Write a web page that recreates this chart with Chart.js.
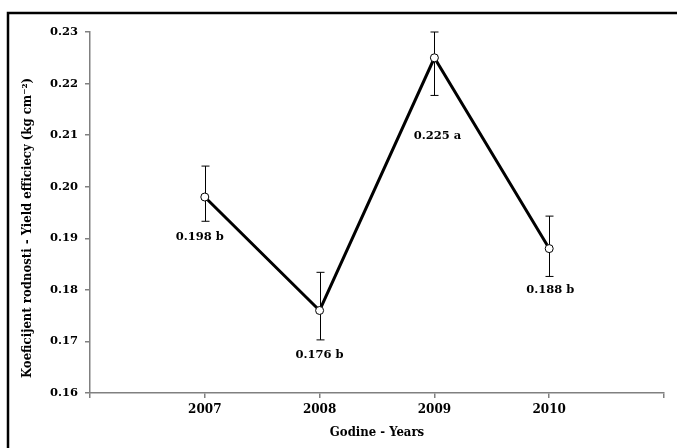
<!DOCTYPE html>
<html>
<head>
<meta charset="utf-8">
<script src="https://cdn.jsdelivr.net/npm/chart.js@4.4.1/dist/chart.umd.min.js"></script>
<style>
  html, body { margin: 0; padding: 0; background: #fff; }
  #wrap { width: 677px; height: 448px; }
</style>
</head>
<body>
<div id="wrap"><canvas id="canvas" width="677" height="448"></canvas></div>
<script>
var canvas = document.getElementById('canvas');
var ctx = canvas.getContext('2d');

// data
var years = ['2007', '2008', '2009', '2010'];
var means = [0.198, 0.176, 0.225, 0.188];
var errHigh = [0.2040, 0.1834, 0.2300, 0.1943];
var errLow = [0.1933, 0.1703, 0.2177, 0.1826];
var letters = ['b', 'b', 'a', 'b'];
var yTicks = [0.16, 0.17, 0.18, 0.19, 0.20, 0.21, 0.22, 0.23];

// label placement (pixels, relative to the lower error cap)
var labelDx = [-5, 0, 3, 1];
var labelDy = [16, 15, 41, 14];

var points = [];
for (var i = 0; i < years.length; i++) {
  points.push({ x: i + 1, y: means[i] });
}

var boldSerif = 'bold 11.5px "DejaVu Serif"';
var titleFont = 'bold 13px "DejaVu Serif Condensed", "DejaVu Serif"';

// border, error bars and labels
var extras = {
  id: 'extras',
  beforeDatasetsDraw: function(chart) {
    var c = chart.ctx;
    var xs = chart.scales.x, ys = chart.scales.y;
    c.save();
    c.strokeStyle = '#000';
    c.lineWidth = 1;
    for (var i = 0; i < years.length; i++) {
      var px = Math.round(xs.getPixelForValue(i + 1)) + 0.5;
      var top = ys.getPixelForValue(errHigh[i]);
      var bot = ys.getPixelForValue(errLow[i]);
      c.beginPath();
      c.moveTo(px, top); c.lineTo(px, bot);
      c.moveTo(px - 4, top); c.lineTo(px + 4, top);
      c.moveTo(px - 4, bot); c.lineTo(px + 4, bot);
      c.stroke();
    }
    c.restore();
  },
  afterDraw: function(chart) {
    var c = chart.ctx;
    var xs = chart.scales.x, ys = chart.scales.y;
    c.save();
    // outer frame (runs past the right and bottom edges)
    c.strokeStyle = '#000';
    c.lineWidth = 2.5;
    c.strokeRect(8, 13, 700, 480);

    c.fillStyle = '#000';
    c.font = boldSerif;
    c.textAlign = 'center';
    c.textBaseline = 'middle';
    for (var i = 0; i < years.length; i++) {
      var px = xs.getPixelForValue(i + 1);
      var bot = ys.getPixelForValue(errLow[i]);
      c.fillText(means[i].toFixed(3) + ' ' + letters[i], px + labelDx[i], bot + labelDy[i]);
    }

    // axis titles
    c.font = titleFont;
    c.fillText('Godine - Years', (chart.chartArea.left + chart.chartArea.right) / 2, 433);
    c.translate(28, 228);
    c.rotate(-Math.PI / 2);
    c.fillText('Koeficijent rodnosti - Yield efficiecy (kg cm\u207B\u00B2)', 0, 0);
    c.restore();
  }
};

var chart = new Chart(ctx, {
  type: 'line',
  data: {
    datasets: [{
      data: points,
      borderColor: '#000',
      borderWidth: 3,
      pointRadius: 4,
      pointBorderWidth: 1,
      pointBackgroundColor: '#fff',
      pointBorderColor: '#000',
      tension: 0,
      fill: false
    }]
  },
  options: {
    responsive: false,
    animation: false,
    layout: { padding: { left: 0, top: 32, right: 13, bottom: 0 } },
    plugins: {
      legend: { display: false },
      tooltip: { enabled: false }
    },
    scales: {
      x: {
        type: 'linear',
        min: 0,
        max: 5,
        afterFit: function(scale) { scale.height = 55; },
        afterBuildTicks: function(scale) {
          var t = [];
          for (var i = 0; i <= years.length + 1; i++) t.push({ value: i });
          scale.ticks = t;
        },
        grid: { drawOnChartArea: false, color: '#808080', tickLength: 5, lineWidth: 1.5 },
        border: { color: '#808080', width: 1.5 },
        ticks: {
          padding: 5,
          color: '#000',
          font: { family: 'DejaVu Serif', size: 12, weight: 'bold' },
          callback: function(v) { return years[v - 1] || ''; }
        }
      },
      y: {
        min: yTicks[0],
        max: yTicks[yTicks.length - 1],
        afterFit: function(scale) { scale.width = 90; },
        afterBuildTicks: function(scale) {
          scale.ticks = yTicks.map(function(v) { return { value: v }; });
        },
        grid: { drawOnChartArea: false, color: '#808080', tickLength: 5, lineWidth: 1.5 },
        border: { color: '#808080', width: 1.5 },
        ticks: {
          padding: 7,
          color: '#000',
          font: { family: 'DejaVu Serif', size: 11.5, weight: 'bold' },
          callback: function(v) { return v.toFixed(2); }
        }
      }
    }
  },
  plugins: [extras]
});
</script>
</body>
</html>
